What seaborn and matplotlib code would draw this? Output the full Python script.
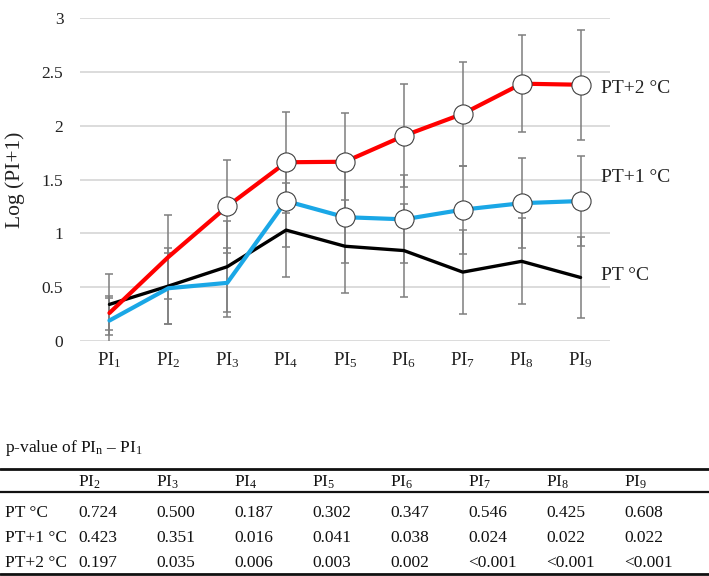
import matplotlib
matplotlib.use("Agg")
import matplotlib.pyplot as plt
import seaborn as sns
import pandas as pd
from matplotlib.lines import Line2D

# ---------------- data ----------------
categories = ["PI1", "PI2", "PI3", "PI4", "PI5", "PI6", "PI7", "PI8", "PI9"]
tick_labels = [r"PI$_{\mathrm{%d}}$" % i for i in range(1, 10)]

pt_mean = [0.34, 0.51, 0.69, 1.03, 0.88, 0.84, 0.64, 0.74, 0.59]
pt_err = [0.28, 0.35, 0.42, 0.44, 0.43, 0.43, 0.39, 0.40, 0.38]
pt1_mean = [0.19, 0.49, 0.54, 1.30, 1.15, 1.13, 1.22, 1.28, 1.30]
pt1_err = [0.21, 0.33, 0.32, 0.43, 0.43, 0.41, 0.41, 0.42, 0.42]
pt2_mean = [0.26, 0.78, 1.25, 1.66, 1.665, 1.906, 2.11, 2.39, 2.38]
pt2_err = [0.16, 0.39, 0.43, 0.47, 0.45, 0.48, 0.48, 0.45, 0.51]

# significant points (open circle markers)
pt1_marked = [False, False, False, True, True, True, True, True, True]
pt2_marked = [False, False, True, True, True, True, True, True, True]

series_names = ["PT \u00b0C", "PT+1 \u00b0C", "PT+2 \u00b0C"]

table_cols = [r"PI$_{\mathrm{%d}}$" % i for i in range(2, 10)]
pvals_pt = ["0.724", "0.500", "0.187", "0.302", "0.347", "0.546", "0.425", "0.608"]
pvals_pt1 = ["0.423", "0.351", "0.016", "0.041", "0.038", "0.024", "0.022", "0.022"]
pvals_pt2 = ["0.197", "0.035", "0.006", "0.003", "0.002", "<0.001", "<0.001", "<0.001"]

# ---------------- style ----------------
sns.set_theme(style="white")
plt.rcParams["font.family"] = ["Liberation Serif", "DejaVu Serif"]
plt.rcParams["mathtext.fontset"] = "custom"
plt.rcParams["mathtext.rm"] = "Liberation Serif"
plt.rcParams["mathtext.it"] = "Liberation Serif:italic"
plt.rcParams["mathtext.bf"] = "Liberation Serif:bold"

W, H = 709, 576
fig = plt.figure(figsize=(W / 100, H / 100), dpi=100)
ax = fig.add_axes([80 / W, 1 - 341 / H, 530 / W, 323 / H])

means = [pt_mean, pt1_mean, pt2_mean]
errs = [pt_err, pt1_err, pt2_err]
colors = ["#000000", "#1aa7e6", "#ff0000"]
widths = [2.4, 3.0, 3.0]

# error bars
for m, e in zip(means, errs):
    ax.errorbar(categories, m, yerr=e, fmt="none", ecolor="#7f7f7f",
                elinewidth=1.1, capsize=3, capthick=1.1, zorder=1)

# lines
for name, m, c, lw in zip(series_names, means, colors, widths):
    df = pd.DataFrame({"cat": categories, "val": m})
    sns.lineplot(data=df, x="cat", y="val", color=c, linewidth=lw,
                 sort=False, ax=ax, zorder=3)

# markers
for m, flags in [(pt1_mean, pt1_marked), (pt2_mean, pt2_marked)]:
    df = pd.DataFrame({"cat": categories, "val": m, "flag": flags})
    df = df[df["flag"]]
    sns.scatterplot(data=df, x="cat", y="val", s=190, marker="o",
                    facecolor="white", edgecolor="#404040", linewidth=0.8,
                    ax=ax, zorder=5)

# series labels
offsets = [1.5, 17, -2.7]
for name, m, dy in zip(series_names, means, offsets):
    ax.annotate(name, xy=(len(categories) - 1, m[-1]), xytext=(15, dy),
                textcoords="offset points", va="center", ha="left",
                fontsize=14, color="#222222", annotation_clip=False)

ax.set_xlim(-0.5, len(categories) - 0.5)
ax.set_ylim(0, 3)
ax.set_yticks([0, 0.5, 1, 1.5, 2, 2.5, 3])
ax.set_yticklabels(["0", "0.5", "1", "1.5", "2", "2.5", "3"])
ax.set_xticks(range(len(categories)))
ax.set_xticklabels(tick_labels)
ax.tick_params(axis="y", length=0, pad=12, labelsize=12.5, colors="#222222")
ax.tick_params(axis="x", length=0, pad=7, labelsize=13.5, colors="#222222")
ax.yaxis.grid(True, color="#d9d9d9", linewidth=1.3)
ax.xaxis.grid(False)
for s in ax.spines.values():
    s.set_visible(False)
ax.set_xlabel("")
ax.set_ylabel("Log (PI+1)", fontsize=15.5, color="#222222")
ax.yaxis.set_label_coords(-0.104, 0.5)

# ---------------- table ----------------
def fy(y):
    return 1 - y / H

def fx(x):
    return x / W

fig.text(fx(5), fy(448), r"p-value of PI$_{\mathrm{n}}$ \u2013 PI$_{\mathrm{1}}$".replace("\\u2013", "\u2013"),
         fontsize=12.5, va="center", ha="left", color="#111111")
for y, lw in [(469, 2.0), (492, 1.6), (574, 2.0)]:
    fig.add_artist(Line2D([0, 1], [fy(y), fy(y)], transform=fig.transFigure,
                          color="#111111", linewidth=lw))

col_x = [78 + 78 * i for i in range(8)]
for x, lab in zip(col_x, table_cols):
    fig.text(fx(x), fy(482), lab, fontsize=12.5, va="center", ha="left", color="#111111")

for y, name, vals in [(513, series_names[0], pvals_pt),
                      (538, series_names[1], pvals_pt1),
                      (563, series_names[2], pvals_pt2)]:
    fig.text(fx(5), fy(y), name, fontsize=12.5, va="center", ha="left", color="#111111")
    for x, v in zip(col_x, vals):
        fig.text(fx(x), fy(y), v, fontsize=12.5, va="center", ha="left", color="#111111")

fig.savefig("out.png", dpi=100, facecolor="white")
